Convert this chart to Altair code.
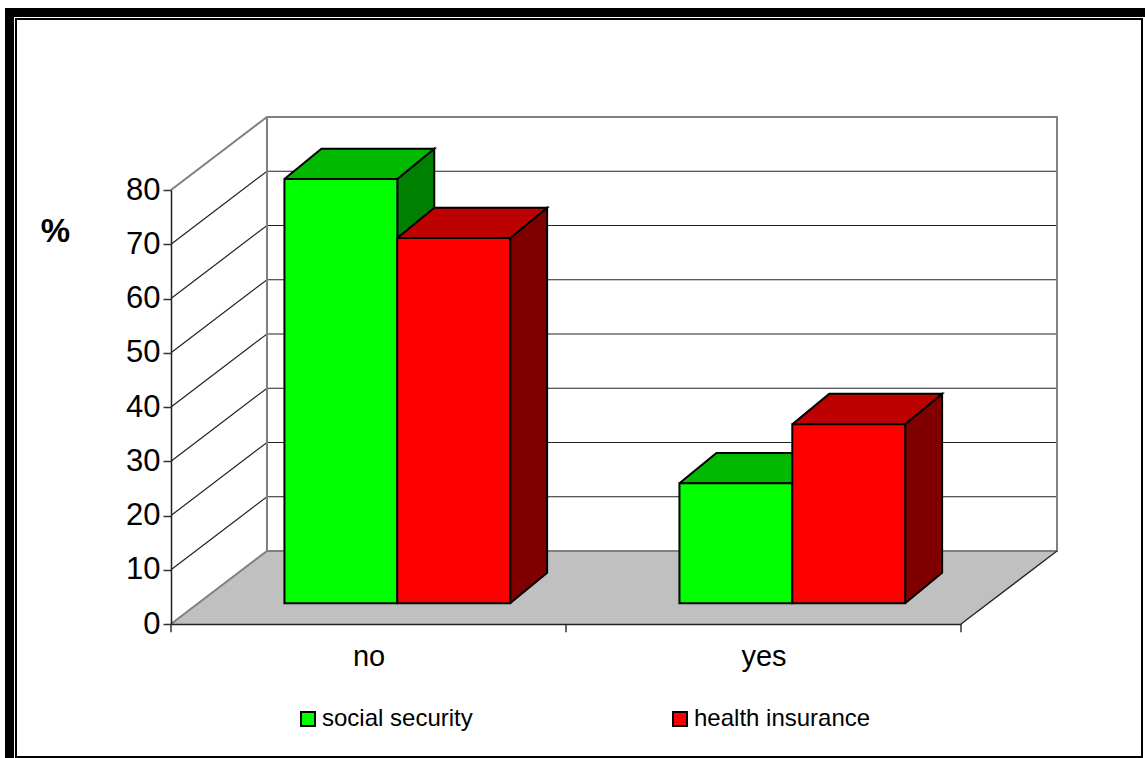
import altair as alt
import pandas as pd

# Survey shares by answer and type of coverage
categories = ["no", "yes"]
series = ["social security", "health insurance"]
social_security = [78.2, 22.1]
health_insurance = [67.3, 33.0]
y_ticks = [0, 10, 20, 30, 40, 50, 60, 70, 80]
x_ticks = [0, 1, 2]

front_colors = ["#00ff00", "#ff0000"]
top_colors = ["#00b900", "#bd0000"]
side_colors = ["#008000", "#800000"]

# Oblique projection: how far the back wall shifts on each axis
DEPTH_X = 0.243
DEPTH_Y = 13.46
BAR_WIDTH = 1 / 3.5
# Where the bars start and end along the depth axis, per screen direction
FRONT_X, BACK_X = 0.3, 0.685
FRONT_Y, BACK_Y = 0.285, 0.70

FONT = "Liberation Sans"
x_scale = alt.Scale(domain=[0, 2], nice=False, zero=False)
y_scale = alt.Scale(domain=[0, 80], nice=False, zero=False)
X = alt.X(
    "x:Q", scale=x_scale,
    axis=alt.Axis(
        values=[0.5, 1.5], ticks=False, grid=False, title=None,
        labelExpr=f"datum.value < 1 ? '{categories[0]}' : '{categories[1]}'",
        labelFont=FONT, labelFontSize=29, labelColor="black",
        labelPadding=18, labelAngle=0,
        domainColor="#222222", domainWidth=1.5, zindex=1,
    ),
)
Y = alt.Y(
    "y:Q", scale=y_scale,
    axis=alt.Axis(
        values=y_ticks, grid=False, title="%", titleAngle=0,
        titleFont=FONT, titleFontSize=33, titleFontWeight="bold",
        titleColor="black", titleX=-116, titleY=58,
        labelFont=FONT, labelFontSize=31, labelColor="black",
        labelPadding=3, tickSize=8, tickColor="#333333", tickWidth=1.5,
        domainColor="#222222", domainWidth=1.5, zindex=1,
    ),
)


def project(x, v, zx, zy=None):
    return {"x": x + zx * DEPTH_X, "y": v + (zx if zy is None else zy) * DEPTH_Y}


def polygon(points, fill, stroke=None, width=2):
    """A closed filled outline, drawn as a line that returns to its start."""
    rows = [dict(p, i=n) for n, p in enumerate(points + points[:1])]
    kwargs = {"fill": fill, "strokeWidth": width, "stroke": stroke or fill}
    return (
        alt.Chart(pd.DataFrame(rows))
        .mark_line(**kwargs)
        .encode(x=X, y=Y, order="i:Q")
    )


def polylines(lines, color, width):
    rows = []
    for key, points in enumerate(lines):
        rows += [dict(p, i=n, key=key) for n, p in enumerate(points)]
    return (
        alt.Chart(pd.DataFrame(rows))
        .mark_line(color=color, strokeWidth=width)
        .encode(x=X, y=Y, order="i:Q", detail="key:N")
    )


def frame(x0, x1, y0, y1):
    # Page border pieces, placed in pixels around the plot area
    return alt.Chart(pd.DataFrame({"a": [0]})).mark_rect(color="black").encode(
        x=alt.value(x0 - 171), x2=alt.value(x1 - 171),
        y=alt.value(y0 - 190), y2=alt.value(y1 - 190),
    )


layers = [
    frame(5, 14, 8, 758), frame(5, 1145, 8, 17),
    frame(15, 17, 18, 758), frame(15, 1143, 18, 20),
    frame(1141, 1143, 18, 758), frame(15, 1143, 756, 758),
]

# Floor and wall structure
floor = [project(0, 0, 0), project(2, 0, 0), project(2, 0, 1), project(0, 0, 1)]
layers.append(polygon(floor, "#c0c0c0", width=1))

grid_lines = [
    [project(0, v, 0), project(0, v, 1), project(2, v, 1)]
    for v in y_ticks[1:-1]
]
layers.append(polylines(grid_lines, "#222222", 1.2))
wall_edges = [
    [project(0, 80, 0), project(0, 80, 1), project(2, 80, 1), project(2, 0, 1), project(0, 0, 1), project(0, 80, 1)],
    [project(0, 0, 0), project(0, 0, 1)],
]
layers.append(polylines(wall_edges, "#808080", 2))
layers.append(polylines([[project(2, 0, 0), project(2, 0, 1)]], "#222222", 1.3))

# Tick marks below the category axis
tick_rows = pd.DataFrame({"x": x_ticks, "y": [0] * 3, "y2": [-1.5] * 3})
layers.append(
    alt.Chart(tick_rows)
    .mark_rule(color="#333333", strokeWidth=1.5)
    .encode(x=X, y=Y, y2="y2:Q")
)

# Bars: side and top faces first, front face last, left to right
value_sets = [social_security, health_insurance]
for c in range(len(categories)):
    for s, name in enumerate(series):
        v = value_sets[s][c]
        left = c + 0.75 * BAR_WIDTH + s * BAR_WIDTH
        right = left + BAR_WIDTH
        side = [project(right, 0, FRONT_X, FRONT_Y), project(right, v, FRONT_X, FRONT_Y),
                project(right, v, BACK_X, BACK_Y), project(right, 0, BACK_X, BACK_Y)]
        top = [project(left, v, FRONT_X, FRONT_Y), project(right, v, FRONT_X, FRONT_Y),
               project(right, v, BACK_X, BACK_Y), project(left, v, BACK_X, BACK_Y)]
        layers.append(polygon(side, side_colors[s], "black"))
        layers.append(polygon(top, top_colors[s], "black"))
        low = project(left, 0, FRONT_X, FRONT_Y)
        high = project(right, v, FRONT_X, FRONT_Y)
        front = pd.DataFrame([{
            "x": low["x"], "x2": high["x"], "y": low["y"], "y2": high["y"], "series": name,
        }])
        layers.append(
            alt.Chart(front)
            .mark_rect(stroke="black", strokeWidth=2)
            .encode(
                x=X, x2="x2:Q", y=Y, y2="y2:Q",
                fill=alt.Fill(
                    "series:N",
                    scale=alt.Scale(domain=series, range=front_colors),
                    legend=alt.Legend(
                        title=None, orient="none", legendX=125, legendY=517,
                        direction="horizontal", columns=2, columnPadding=195,
                        symbolType="square", symbolSize=196,
                        symbolStrokeColor="black", symbolStrokeWidth=2,
                        labelFont=FONT, labelFontSize=24, labelColor="black",
                        labelOffset=2, labelLimit=300, padding=0,
                    ),
                ),
            )
        )

chart = (
    alt.layer(*layers)
    .properties(
        width=790, height=434, background="white",
        padding={"left": 171, "top": 190, "right": 184, "bottom": 134},
        autosize=alt.AutoSizeParams(type="none", contains="content"),
    )
    .configure_view(stroke=None)
)

chart.save("out.html", embed_options={"renderer": "svg", "actions": False})
